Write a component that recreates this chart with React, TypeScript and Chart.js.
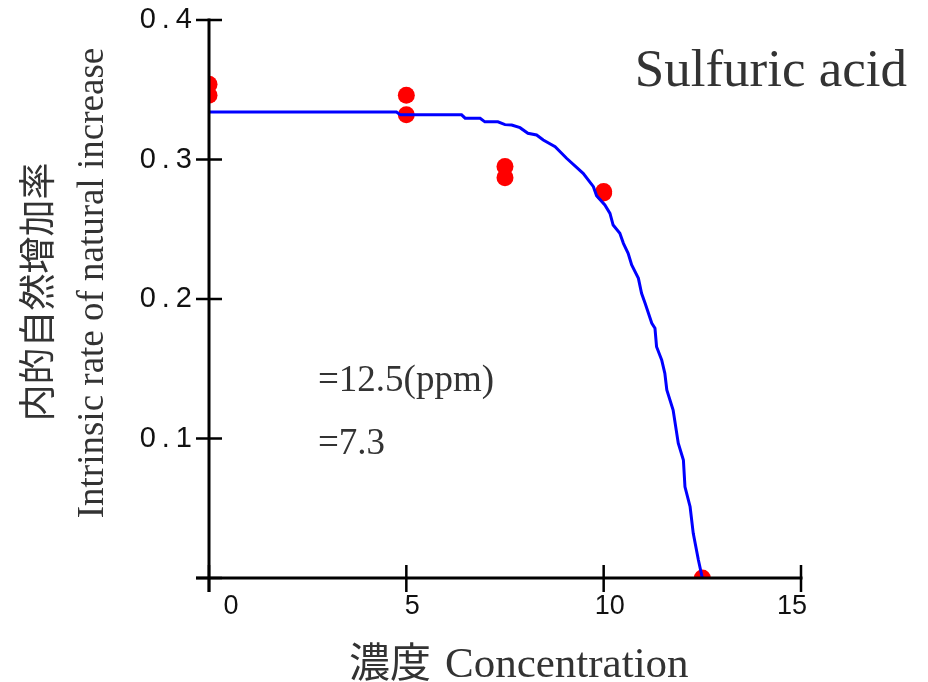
import React, { useEffect, useRef } from "react";
import { Chart, registerables } from "chart.js";

Chart.register(...registerables);

// Observed intrinsic rate of natural increase at each test concentration (ppm)
const concentration = [0, 0, 5, 5, 7.5, 7.5, 10, 10, 12.5];
const observedRate = [0.354, 0.346, 0.346, 0.332, 0.295, 0.287, 0.277, 0.276, 0];

// Fitted response curve
const curveConcentration = [
  0, 4.75, 4.85, 6.4, 6.49, 6.87, 6.99, 7.32, 7.5, 7.67, 7.88, 8.08, 8.3, 8.47,
  8.77, 9.06, 9.48, 9.74, 9.82, 10.03, 10.16, 10.24, 10.41, 10.5, 10.62, 10.71,
  10.88, 10.96, 11.05, 11.22, 11.3, 11.34, 11.47, 11.55, 11.6, 11.76, 11.89,
  12.02, 12.06, 12.19, 12.27, 12.4, 12.5,
];
const curveRate = [
  0.334, 0.334, 0.332, 0.332, 0.3296, 0.3296, 0.327, 0.327, 0.325, 0.3247,
  0.3228, 0.3188, 0.3176, 0.314, 0.3092, 0.3009, 0.2901, 0.2805, 0.274, 0.2674,
  0.2614, 0.253, 0.2471, 0.2399, 0.2328, 0.2244, 0.2148, 0.2041, 0.1969,
  0.1826, 0.179, 0.1658, 0.1563, 0.1467, 0.1348, 0.1204, 0.0966, 0.0846,
  0.0654, 0.0511, 0.032, 0.0129, 0,
];

const xTicks = [0, 5, 10, 15];
const xTickLabels = ["0", "5", "10", "15"];
const yTicks = [0, 0.1, 0.2, 0.3, 0.4];
const yTickLabels = ["", "0.1", "0.2", "0.3", "0.4"];

const titleText = "Sulfuric acid";
const noteLines = ["=12.5(ppm)", "=7.3"];
const yTitleCJK = "内的自然增加率";
const yTitleLatin = "Intrinsic rate of natural increase";
const xTitleCJK = "濃度";
const xTitleLatin = "Concentration";

const SANS = '"Liberation Sans", Arial, sans-serif';
const SERIF = '"Liberation Serif", "Times New Roman", serif';
const CJK = '"Noto Sans CJK JP", "Noto Sans CJK TC", sans-serif';

// horizontal nudges of the x tick labels relative to their ticks
const xLabelShift = [22, 6, 6, -9];

function drawSpaced(ctx: CanvasRenderingContext2D, text: string, right: number, y: number, gap: number) {
  const chars = Array.from(text);
  const widths = chars.map((c) => ctx.measureText(c).width);
  const total = widths.reduce((a, b) => a + b, 0) + gap * (widths.length - 1);
  let cx = right - total;
  ctx.textAlign = "left";
  chars.forEach((c, i) => {
    ctx.fillText(c, cx, y);
    cx += widths[i] + gap;
  });
}

const axesPlugin = {
  id: "crossAxes",
  afterDatasetsDraw(chart: any) {
    const { ctx } = chart;
    const xs = chart.scales.x;
    const ys = chart.scales.y;
    const x0 = xs.getPixelForValue(0);
    const xEnd = xs.getPixelForValue(15);
    const y0 = ys.getPixelForValue(0);
    const yTop = ys.getPixelForValue(0.4);
    const ext = 13;

    ctx.save();
    ctx.strokeStyle = "#000";
    ctx.lineWidth = 3;
    ctx.lineCap = "butt";
    ctx.beginPath();
    ctx.moveTo(x0 - ext, y0);
    ctx.lineTo(xEnd + 1.5, y0);
    ctx.moveTo(x0, yTop - 1.5);
    ctx.lineTo(x0, y0 + ext + 1);
    ctx.stroke();

    ctx.lineWidth = 2.5;
    ctx.beginPath();
    xTicks.forEach((v) => {
      const px = xs.getPixelForValue(v);
      ctx.moveTo(px, y0 - ext);
      ctx.lineTo(px, y0 + ext + 1);
    });
    yTicks.forEach((v) => {
      const py = ys.getPixelForValue(v);
      ctx.moveTo(x0 - ext, py);
      ctx.lineTo(x0 + ext, py);
    });
    ctx.stroke();

    // tick labels
    ctx.fillStyle = "#111";
    ctx.font = `29px ${SANS}`;
    ctx.textBaseline = "middle";
    yTicks.forEach((v, i) => {
      if (!yTickLabels[i]) return;
      drawSpaced(ctx, yTickLabels[i], 192, ys.getPixelForValue(v), 6);
    });
    ctx.font = `27px ${SANS}`;
    ctx.textAlign = "center";
    ctx.textBaseline = "top";
    xTicks.forEach((v, i) => {
      ctx.fillText(xTickLabels[i], xs.getPixelForValue(v) + xLabelShift[i], 593);
    });

    // titles and notes
    ctx.fillStyle = "#333";
    ctx.textBaseline = "alphabetic";
    ctx.textAlign = "right";
    ctx.font = `53px ${SERIF}`;
    ctx.fillText(titleText, 907, 86);

    ctx.textAlign = "left";
    ctx.font = `37px ${SERIF}`;
    ctx.fillText(noteLines[0], 318, 391);
    ctx.fillText(noteLines[1], 318, 454);

    // x title
    ctx.font = `41px ${CJK}`;
    ctx.textBaseline = "middle";
    ctx.fillText(xTitleCJK, 349, 661);
    ctx.font = `43px ${SERIF}`;
    ctx.textBaseline = "alphabetic";
    ctx.fillText(xTitleLatin, 445, 677);

    // y title, rotated
    ctx.save();
    ctx.translate(37, 292);
    ctx.rotate(-Math.PI / 2);
    ctx.textAlign = "center";
    ctx.textBaseline = "middle";
    ctx.font = `37px ${CJK}`;
    ctx.fillText(yTitleCJK, 0, 0);
    ctx.restore();

    ctx.save();
    ctx.translate(103, 283);
    ctx.rotate(-Math.PI / 2);
    ctx.textAlign = "center";
    ctx.textBaseline = "alphabetic";
    ctx.font = `37px ${SERIF}`;
    ctx.fillText(yTitleLatin, 0, 0);
    ctx.restore();

    ctx.restore();
  },
};

export default function App() {
  const canvasRef = useRef<HTMLCanvasElement | null>(null);

  useEffect(() => {
    const canvas = canvasRef.current;
    if (!canvas) return;
    const chart = new Chart(canvas, {
      type: "scatter",
      data: {
        datasets: [
          {
            type: "line",
            data: curveConcentration.map((x, i) => ({ x, y: curveRate[i] })),
            borderColor: "#0000ff",
            borderWidth: 3,
            pointRadius: 0,
            fill: false,
            tension: 0,
            clip: 0,
            order: 0,
          } as any,
          {
            data: concentration.map((x, i) => ({ x, y: observedRate[i] })),
            backgroundColor: "#ff0000",
            borderWidth: 0,
            pointRadius: 8.5,
            clip: 0,
            order: 1,
          },
        ],
      },
      options: {
        responsive: false,
        animation: false,
        devicePixelRatio: 1,
        layout: { padding: { left: 209, top: 20, right: 127, bottom: 104 } },
        plugins: { legend: { display: false }, tooltip: { enabled: false } },
        scales: {
          x: { type: "linear", min: 0, max: 15, display: false },
          y: { type: "linear", min: 0, max: 0.4, display: false },
        },
      },
      plugins: [axesPlugin],
    });
    return () => chart.destroy();
  }, []);

  return (
    <div style={{ position: "fixed", left: 0, top: 0, width: 928, height: 682, background: "#fff" }}>
      <canvas ref={canvasRef} width={928} height={682} style={{ width: 928, height: 682, display: "block" }} />
    </div>
  );
}
